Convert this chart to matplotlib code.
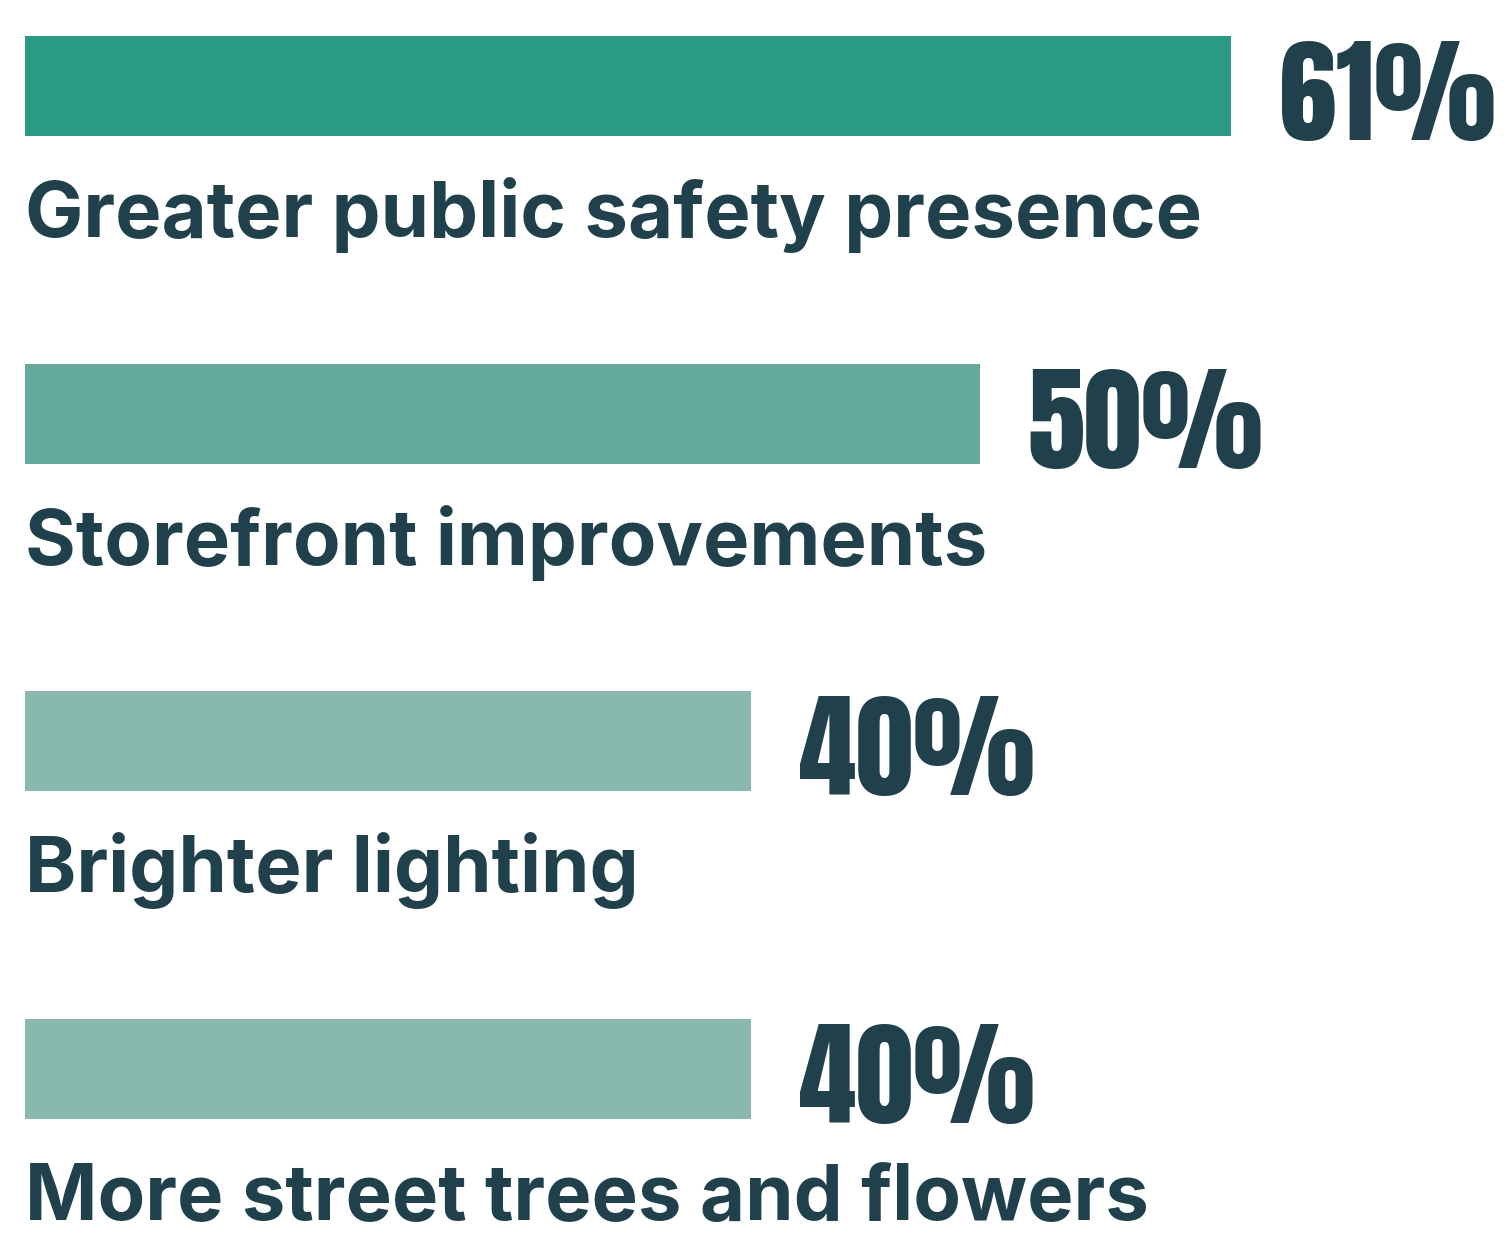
import matplotlib.pyplot as plt
from matplotlib import font_manager as fm
from matplotlib.transforms import blended_transform_factory

# survey results
categories = ['Greater public safety presence', 'Storefront improvements',
              'Brighter lighting', 'More street trees and flowers']
values = [61, 50, 40, 40]
bar_colors = ['#2a9a87', '#65a99c', '#89b9ae', '#89b9ae']

TEXT = '#20404b'
W, H = 1507, 1238


def bold_face(family, fallback):
    # static bold file of a family if there is one
    hits = [f for f in fm.fontManager.ttflist
            if f.name.startswith(family) and isinstance(f.weight, int)
            and 600 <= f.weight <= 750 and 'italic' not in f.style]
    if hits:
        hits.sort(key=lambda f: abs(f.weight - 700))
        return fm.FontProperties(fname=hits[0].fname)
    return fm.FontProperties(family=fallback, weight='bold')


label_fp = bold_face('Rubik', 'Inter')
names = {f.name for f in fm.fontManager.ttflist}
num_family = 'Anton' if 'Anton' in names else 'Barlow Condensed'

fig = plt.figure(figsize=(W / 100, H / 100), dpi=100)
left_px = 25
ax = fig.add_axes([left_px / W, 0, 1 - left_px / W, 1])
ax.set_axis_off()

# value axis does not start at zero
x0 = 8.27
px_per_pct = 22.88
ax.set_xlim(x0, x0 + (W - left_px) / px_per_pct)
ax.set_ylim(H, 0)

row_gap = 327.7
first_center = 86
bar_h = 100
ypos = [first_center + i * row_gap for i in range(len(values))]

ax.barh(ypos, values, height=bar_h, color=bar_colors, left=0)

lab_tr = blended_transform_factory(ax.transAxes, ax.transData)
for y, cat, v in zip(ypos, categories, values):
    t = ax.text(0.0, y + bar_h / 2 + 101, cat, transform=lab_tr,
                fontproperties=label_fp, color=TEXT,
                va='baseline', ha='left')
    t.set_fontsize(56)
    ax.text(v + 48 / px_per_pct, y + 54, f'{v}%', fontsize=83,
            family=num_family, color=TEXT, va='baseline', ha='left')

fig.savefig('out.png', dpi=100)
